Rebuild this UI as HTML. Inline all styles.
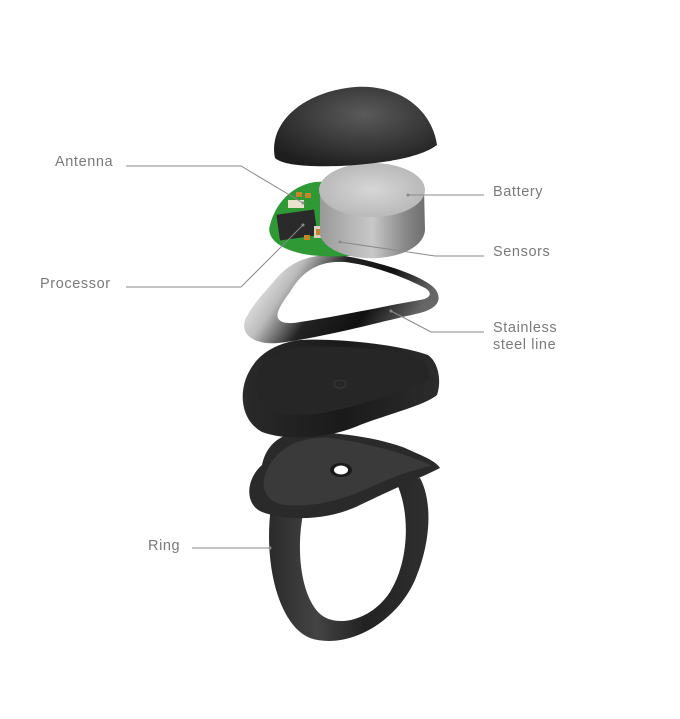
<!DOCTYPE html>
<html><head><meta charset="utf-8"><style>
html,body{margin:0;padding:0;background:#fff;}
svg{display:block}
text{font-family:"Liberation Sans",sans-serif;font-size:14.5px;fill:#7a7a7a;letter-spacing:0.6px}
</style></head><body>
<svg width="680" height="719" viewBox="0 0 680 719" xmlns="http://www.w3.org/2000/svg">
<defs>
<radialGradient id="dome" cx="0.55" cy="0.35" r="0.7">
<stop offset="0" stop-color="#5a5a5a"/><stop offset="0.6" stop-color="#363636"/><stop offset="1" stop-color="#1e1e1e"/></radialGradient>
<linearGradient id="batSide" x1="0" x2="1">
<stop offset="0" stop-color="#9a9a9a"/><stop offset="0.5" stop-color="#c8c8c8"/><stop offset="0.8" stop-color="#8a8a8a"/><stop offset="1" stop-color="#6e6e6e"/></linearGradient>
<radialGradient id="batTop" cx="0.5" cy="0.5" r="0.6">
<stop offset="0" stop-color="#d6d6d6"/><stop offset="1" stop-color="#b4b4b4"/></radialGradient>
<linearGradient id="steel" x1="0" x2="1" y1="0" y2="0.3">
<stop offset="0" stop-color="#555"/><stop offset="0.12" stop-color="#eee"/><stop offset="0.3" stop-color="#bbb"/><stop offset="0.5" stop-color="#222"/><stop offset="0.75" stop-color="#111"/><stop offset="1" stop-color="#666"/></linearGradient>
<linearGradient id="cup" x1="0" x2="1">
<stop offset="0" stop-color="#2a2a2a"/><stop offset="0.5" stop-color="#1a1a1a"/><stop offset="1" stop-color="#2c2c2c"/></linearGradient>
<linearGradient id="band" x1="0" x2="1">
<stop offset="0" stop-color="#2a2a2a"/><stop offset="0.3" stop-color="#444"/><stop offset="0.6" stop-color="#222"/><stop offset="1" stop-color="#2f2f2f"/></linearGradient>
</defs>

<!-- ring band -->
<path d="M272 500 C262 560 278 625 310 638 C345 650 395 625 415 580 C432 540 432 500 420 478 L396 482 C410 510 410 560 390 592 C372 620 335 630 318 612 C300 592 295 545 305 505 Z" fill="url(#band)"/>
<!-- ring top cup -->
<path d="M262 465 C245 480 245 505 262 512 C290 522 330 520 360 505 C395 488 420 478 440 468 C435 460 420 455 405 448 C380 438 330 430 295 433 C275 436 265 450 262 465 Z" fill="#2a2a2a"/>
<path d="M268 468 C258 488 266 502 285 505 C320 508 350 497 380 483 C400 474 420 468 432 466 C410 455 370 443 330 438 C300 436 278 448 268 468 Z" fill="#3a3a3a"/>
<ellipse cx="341" cy="470" rx="11" ry="7" fill="#1a1a1a"/>
<ellipse cx="341" cy="470" rx="7" ry="4.5" fill="#fff"/>

<!-- black cup -->
<path d="M250 370 C238 390 240 420 262 432 C290 442 330 438 360 425 C395 412 425 405 437 395 C442 380 438 362 428 355 C400 345 340 338 300 340 C275 343 258 355 250 370 Z" fill="url(#cup)"/>
<path d="M258 372 C252 392 260 410 280 414 C315 418 350 408 380 398 C405 390 422 384 430 378 C430 366 425 360 410 355 C380 348 330 345 300 347 C280 350 265 360 258 372 Z" fill="#262626"/>
<ellipse cx="340" cy="384" rx="6" ry="4" fill="none" stroke="#3a3a3a"/>

<!-- steel line -->
<path d="M245 320 C240 335 255 345 278 343 C320 338 380 322 420 313 C438 308 442 300 436 290 C425 276 380 262 345 256 C310 252 290 262 275 280 C262 295 250 308 245 320 Z" fill="url(#steel)"/>
<path d="M278 312 C275 322 285 325 300 322 C340 316 390 305 420 300 C432 298 432 292 425 288 C400 275 370 265 345 262 C315 260 300 275 290 292 C284 300 280 306 278 312 Z" fill="#fff"/>

<!-- PCB -->
<path d="M270 225 C265 240 285 254 320 256 C355 258 390 252 405 244 L400 200 C380 185 340 180 315 182 C290 186 275 205 270 225 Z" fill="#2f9a35"/>
<rect x="278" y="212" width="38" height="26" fill="#2a2a2a" transform="rotate(-8 297 225)"/>
<rect x="288" y="200" width="16" height="8" fill="#e9e2cf"/>
<rect x="296" y="192" width="6" height="5" fill="#c8862a"/><rect x="305" y="193" width="6" height="5" fill="#c8862a"/>
<rect x="314" y="226" width="14" height="12" fill="#d9d2c2"/><rect x="316" y="229" width="10" height="6" fill="#c8862a"/>
<rect x="333" y="230" width="13" height="11" fill="#3a3a3a"/>
<rect x="348" y="236" width="6" height="5" fill="#c8862a"/><rect x="355" y="234" width="6" height="5" fill="#c8862a"/>
<rect x="304" y="235" width="6" height="5" fill="#c8862a"/>

<!-- battery -->
<path d="M320 192 L320 235 C325 252 355 260 378 258 C405 256 424 245 425 230 L424 188 Z" fill="url(#batSide)"/>
<ellipse cx="372" cy="190" rx="53" ry="27" fill="url(#batTop)"/>

<!-- dome -->
<path d="M275 158 C268 125 300 92 355 87 C400 84 432 110 437 145 C420 158 380 164 340 166 C305 167 283 165 275 158 Z" fill="url(#dome)"/>

<!-- leader lines -->
<g stroke="#8a8a8a" stroke-width="1" fill="none">
<polyline points="126,166 241,166 303,203"/>
<polyline points="126,287 241,287 303,225"/>
<polyline points="408,195 484,195"/>
<polyline points="340,242 435,256 484,256"/>
<polyline points="391,311 431,332 484,332"/>
<polyline points="192,548 270,548"/>
</g>
<g fill="#8a8a8a"><circle cx="303" cy="203" r="1.5"/><circle cx="303" cy="225" r="1.5"/><circle cx="408" cy="195" r="1.5"/><circle cx="340" cy="242" r="1.5"/><circle cx="391" cy="311" r="1.5"/><circle cx="270" cy="548" r="1.5"/></g>

<text x="55" y="166">Antenna</text>
<text x="40" y="288">Processor</text>
<text x="493" y="196">Battery</text>
<text x="493" y="256">Sensors</text>
<text x="493" y="332">Stainless</text>
<text x="493" y="349">steel line</text>
<text x="148" y="550">Ring</text>
</svg>
</body></html>
